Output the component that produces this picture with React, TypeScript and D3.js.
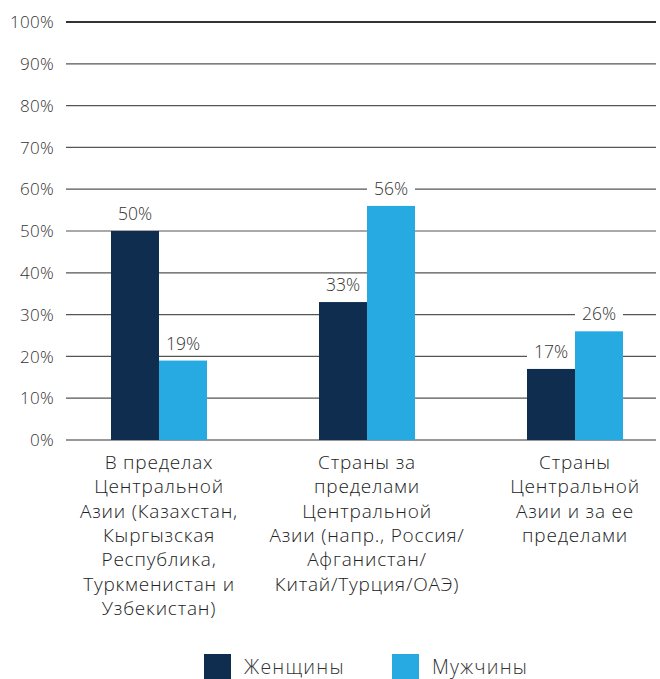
import React from 'react';
import * as d3 from 'd3';

const categories = [
  ['В пределах', 'Центральной', 'Азии (Казахстан,', 'Кыргызская', 'Республика,', 'Туркменистан и', 'Узбекистан)'],
  ['Страны за', 'пределами', 'Центральной', 'Азии (напр., Россия/', 'Афганистан/', 'Китай/Турция/ОАЭ)'],
  ['Страны', 'Центральной', 'Азии и за ее', 'пределами'],
];
const seriesNames = ['Женщины', 'Мужчины'];
const women = [50, 33, 17];
const men = [19, 56, 26];
const yTicks = [0, 10, 20, 30, 40, 50, 60, 70, 80, 90, 100];
const colors = ['#0f2d4f', '#27a9e1'];

const W = 660;
const H = 679;
const left = 66;
const right = 656;
const top = 22;
const bottom = 440;
const font = '"Open Sans", Roboto, sans-serif';

const App = () => {
  const x = d3.scaleBand<number>().domain([0, 1, 2]).range([55, 679]).paddingInner(0);
  const inner = d3.scaleBand<number>().domain([0, 1]).range([0, 96]);
  const y = d3.scaleLinear().domain([0, 100]).range([bottom, top]);
  const series = [women, men];

  return (
    <svg width={W} height={H} style={{ position: 'absolute', left: 0, top: 0 }} fontFamily={font}>
      <rect width={W} height={H} fill="#fff" />
      {yTicks.map((t) => (
        <g key={t}>
          <line x1={left} x2={right} y1={y(t)} y2={y(t)} stroke={t === 100 || t === 0 ? '#333' : '#555'} strokeWidth={t === 100 ? 2 : 1.2} />
          <text x={54} y={y(t)} dy="0.36em" textAnchor="end" fontSize={17} fill="#333" fontWeight={300} letterSpacing={0.3}>
            {t}%
          </text>
        </g>
      ))}
      {series.map((vals, si) =>
        vals.map((v, ci) => {
          const bx = (x(ci) as number) + x.bandwidth() / 2 - 48 + (inner(si) as number);
          return (
            <rect key={`${si}-${ci}`} x={bx} y={y(v)} width={inner.bandwidth()} height={bottom - y(v)} fill={colors[si]} />
          );
        })
      )}
      {series.map((vals, si) =>
        vals.map((v, ci) => {
          const cx = (x(ci) as number) + x.bandwidth() / 2 - 48 + (inner(si) as number) + inner.bandwidth() / 2;
          return (
            <g key={`l${si}-${ci}`}>
              <rect x={cx - 24} y={y(v) - 28} width={48} height={21} fill="#fff" />
              <text x={cx} y={y(v) - 11} textAnchor="middle" fontSize={17.5} fill="#333" fontWeight={300}>
                {v}%
              </text>
            </g>
          );
        })
      )}
      {categories.map((lines, ci) => (
        <text key={ci} textAnchor="middle" fontSize={19} fill="#222" fontWeight={300} letterSpacing={0.8}>
          {lines.map((ln, li) => (
            <tspan key={li} x={(x(ci) as number) + x.bandwidth() / 2} y={469 + li * 24.3}>
              {ln}
            </tspan>
          ))}
        </text>
      ))}
      {seriesNames.map((n, i) => (
        <g key={n} transform={`translate(${204 + i * 188},654)`}>
          <rect width={27} height={25} fill={colors[i]} />
          <text x={40} y={19.5} fontSize={19.5} fill="#333" fontWeight={300} letterSpacing={1.2}>
            {n}
          </text>
        </g>
      ))}
    </svg>
  );
};

export default App;
